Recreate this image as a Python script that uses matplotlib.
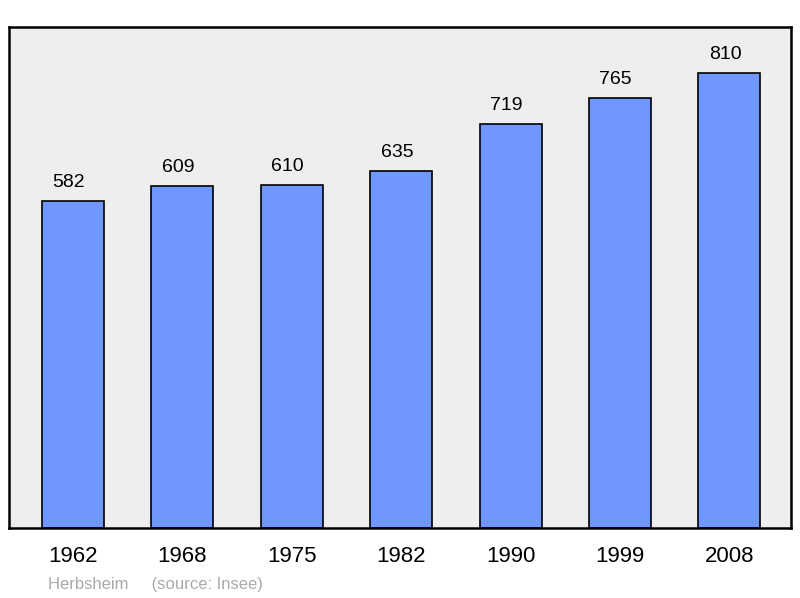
import matplotlib
matplotlib.use("Agg")
import matplotlib.pyplot as plt

years = ["1962", "1968", "1975", "1982", "1990", "1999", "2008"]
population = [582, 609, 610, 635, 719, 765, 810]

fig = plt.figure(figsize=(8, 5.98), dpi=100)
ax = fig.add_axes([9/800, 1-528/598, 782/800, 501/598])
ax.set_facecolor("#eeeeee")
x = list(range(len(years)))
ax.bar(x, population, width=0.567, color="#7096ff", edgecolor="black", linewidth=1.2, zorder=2)
for xi, v in zip(x, population):
    ax.text(xi - 0.04, v + 18, str(v), ha="center", va="bottom", fontsize=14, family="Liberation Sans")
ax.set_xlim(-0.585, 6.563)
ax.set_ylim(0, 891.8)
ax.set_yticks([])
ax.set_xticks(x)
ax.set_xticklabels(years, fontsize=16, family="Liberation Sans")
ax.tick_params(axis="x", length=0, pad=13)
for s in ax.spines.values():
    s.set_linewidth(1.8)
fig.text(48/800, 1-584/598, "Herbsheim     (source: Insee)", fontsize=12, color="#aaaaaa",
         family="Liberation Sans", va="center")
fig.savefig("out.png", dpi=100)
